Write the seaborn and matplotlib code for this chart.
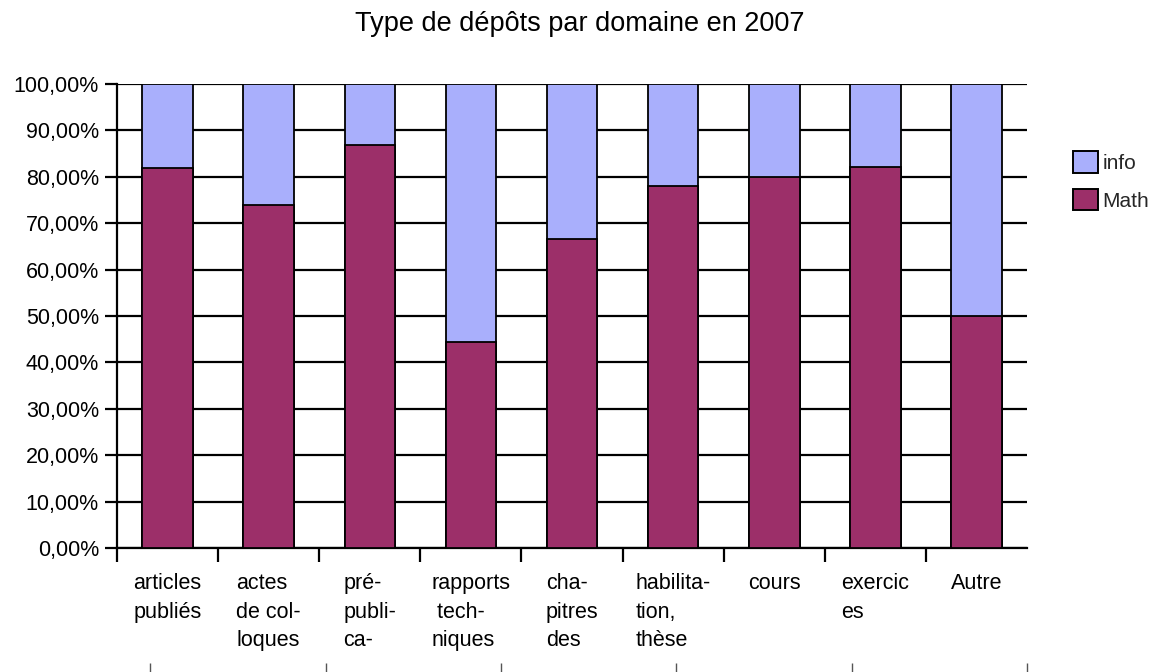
import matplotlib
matplotlib.use("Agg")
import matplotlib.pyplot as plt
import matplotlib.ticker as mticker
from matplotlib.patches import Patch
import seaborn as sns
import pandas as pd

# ── Data ──────────────────────────────────────────────────────────────────────
categories = [
    "articles\npubliés",
    "actes\nde col-\nloques",
    "pré-\npubli-\nca-",
    "rapports\n tech-\nniques",
    "cha-\npitres\ndes",
    "habilita-\ntion,\nthèse",
    "cours",
    "exercic\nes",
    "Autre",
]
math_pct = [81.9, 73.9, 86.9, 44.4, 66.6, 78.0, 79.9, 82.2, 50.0]
info_pct = [18.1, 26.1, 13.1, 55.6, 33.4, 22.0, 20.1, 17.8, 50.0]

title = "Type de dépôts par domaine en 2007"
COLOR_INFO = "#a9affc"
COLOR_MATH = "#9c2f69"

# ── Style ─────────────────────────────────────────────────────────────────────
sns.set_theme(style="white")
plt.rcParams["font.family"] = ["Liberation Sans", "DejaVu Sans"]

df = pd.DataFrame({"cat": categories, "Math": math_pct, "info": info_pct})
df["total"] = df["Math"] + df["info"]

fig = plt.figure(figsize=(11.6, 6.72), dpi=100)
ax = fig.add_axes([0.1009, 0.1845, 0.7845, 0.6905])

ax.yaxis.grid(True, color="black", linewidth=1.6, zorder=0)
ax.set_axisbelow(True)

sns.barplot(data=df, x="cat", y="total", color=COLOR_INFO, width=0.5,
            edgecolor="black", linewidth=1.3, saturation=1, ax=ax, zorder=2)
sns.barplot(data=df, x="cat", y="Math", color=COLOR_MATH, width=0.5,
            edgecolor="black", linewidth=1.3, saturation=1, ax=ax, zorder=3)

ax.set_xlim(-0.5, len(categories) - 0.5)
ax.set_ylim(0, 100)
ax.set_xlabel("")
ax.set_ylabel("")

# y axis
ax.yaxis.set_major_locator(mticker.MultipleLocator(10))
ax.yaxis.set_major_formatter(mticker.FuncFormatter(lambda v, p: f"{v:.2f}".replace(".", ",") + "%"))
ax.tick_params(axis="y", which="major", left=True, length=9, width=1.6,
               color="black", labelsize=15.5, pad=4, labelcolor="black")

# x axis: boundary ticks + centred labels
ax.set_xticks([i - 0.5 for i in range(len(categories))])
ax.set_xticklabels([])
ax.tick_params(axis="x", which="major", bottom=True, length=10, width=1.6, color="black")
ax.set_xticks(range(len(categories)), minor=True)
ax.set_xticklabels(categories, minor=True, fontsize=15.5, linespacing=1.47,
                   multialignment="left", va="top")
ax.tick_params(axis="x", which="minor", length=0, pad=18, labelcolor="black")

for side in ["top", "right"]:
    ax.spines[side].set_visible(False)
ax.spines["left"].set_color("black")
ax.spines["left"].set_linewidth(1.6)
ax.spines["bottom"].set_color("black")
ax.spines["bottom"].set_linewidth(1.6)

# stray tick marks at the bottom of the picture
sec = ax.secondary_xaxis(-0.247)
sec.set_xticks([8.5 - k * 1.734 for k in range(6)])
sec.set_xticklabels([])
sec.tick_params(length=12, width=1.0, color="#555555", direction="out")
sec.spines["bottom"].set_visible(False)

fig.text(0.5, 0.965, title, ha="center", va="center", fontsize=19.5, color="black")

handles = [Patch(facecolor=COLOR_INFO, edgecolor="black", linewidth=1.4, label="info"),
           Patch(facecolor=COLOR_MATH, edgecolor="black", linewidth=1.4, label="Math")]
fig.legend(handles=handles, loc="upper left", bbox_to_anchor=(0.918, 0.787),
           frameon=False, fontsize=15, handlelength=1.2, handleheight=1.2,
           handletextpad=0.2, labelspacing=0.75, borderaxespad=0)

fig.savefig("out.png", dpi=100)
